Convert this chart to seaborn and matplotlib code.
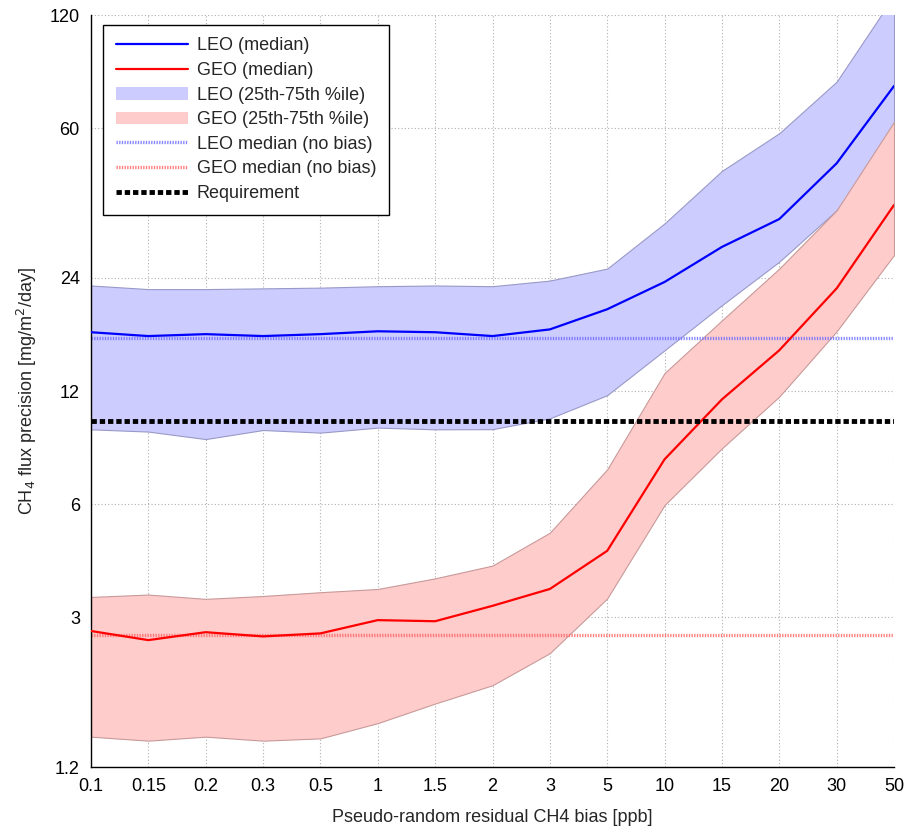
import numpy as np
import pandas as pd
import matplotlib
matplotlib.use("Agg")
import matplotlib.pyplot as plt
import seaborn as sns

# bias levels (categorical x axis)
bias_labels = ["0.1", "0.15", "0.2", "0.3", "0.5", "1", "1.5", "2", "3", "5", "10", "15", "20", "30", "50"]

# LEO flux precision
leo_median = [17.2, 16.8, 17.0, 16.8, 17.0, 17.3, 17.2, 16.8, 17.5, 19.8, 23.4, 29.0, 34.4, 48.4, 77.7]
leo_p25 = [9.49, 9.36, 8.94, 9.45, 9.30, 9.59, 9.49, 9.50, 10.15, 11.7, 15.4, 20.3, 26.5, 36.3, 57.6]
leo_p75 = [22.9, 22.4, 22.4, 22.5, 22.6, 22.8, 22.9, 22.8, 23.6, 25.4, 33.5, 46.2, 58.2, 79.8, 135.0]

# GEO flux precision
geo_median = [2.76, 2.61, 2.74, 2.67, 2.72, 2.95, 2.93, 3.22, 3.57, 4.51, 7.90, 11.4, 15.4, 22.5, 37.5]
geo_p25 = [1.445, 1.41, 1.445, 1.41, 1.43, 1.57, 1.77, 1.98, 2.41, 3.37, 5.97, 8.45, 11.6, 17.3, 27.6]
geo_p75 = [3.40, 3.45, 3.36, 3.42, 3.50, 3.57, 3.81, 4.12, 5.04, 7.43, 13.4, 18.5, 25.4, 36.3, 62.4]

leo_nobias = 16.6
geo_nobias = 2.70
requirement = 10.0

yticks = [1.2, 3, 6, 12, 24, 60, 120]

pos = np.arange(len(bias_labels))
df = pd.DataFrame({
    "pos": np.concatenate([pos, pos]),
    "value": leo_median + geo_median,
    "orbit": ["LEO (median)"] * len(pos) + ["GEO (median)"] * len(pos),
})

sns.set_style("white")
plt.rcParams["font.family"] = ["Liberation Sans", "DejaVu Sans"]

fig = plt.figure(figsize=(9.07, 8.30), dpi=100)
ax = fig.add_axes([0.1003, 0.0759, 0.8854, 0.906])

# 25th-75th percentile bands
ax.fill_between(pos, leo_p25, leo_p75, facecolor="#ccccff", edgecolor="#9999c8",
                linewidth=0.8, zorder=1)
ax.fill_between(pos, geo_p25, geo_p75, facecolor="#ffcccc", edgecolor="#c89999",
                linewidth=0.8, zorder=1)
# legend proxies without the edge line
ax.fill_between([], [], [], facecolor="#ccccff", edgecolor="none", label="LEO (25th-75th %ile)")
ax.fill_between([], [], [], facecolor="#ffcccc", edgecolor="none", label="GEO (25th-75th %ile)")

# medians
sns.lineplot(data=df, x="pos", y="value", hue="orbit",
             palette={"LEO (median)": "#0000ff", "GEO (median)": "#ff0000"},
             linewidth=1.6, ax=ax, zorder=3)

# reference lines
ax.axhline(leo_nobias, color="#6666ff", linewidth=2.4, linestyle=(0, (0.4, 0.4)),
           alpha=0.8, label="LEO median (no bias)", zorder=2)
ax.axhline(geo_nobias, color="#ff6666", linewidth=2.4, linestyle=(0, (0.4, 0.4)),
           alpha=0.85, label="GEO median (no bias)", zorder=2)
ax.axhline(requirement, color="black", linewidth=3.5, linestyle=(0, (1.1, 0.6)),
           label="Requirement", zorder=4)

ax.set_yscale("log")
ax.set_ylim(1.2, 120)
ax.set_xlim(0, len(bias_labels) - 1)
ax.set_yticks(yticks)
ax.set_yticklabels([("%g" % t) for t in yticks])
ax.yaxis.set_minor_locator(matplotlib.ticker.NullLocator())
ax.set_xticks(pos)
ax.set_xticklabels(bias_labels)

ax.grid(True, which="major", color="#b0b0b0", linestyle=(0, (1, 2)), linewidth=0.8)
ax.set_axisbelow(True)
for side in ["top", "right"]:
    ax.spines[side].set_visible(False)
for side in ["left", "bottom"]:
    ax.spines[side].set_color("black")
    ax.spines[side].set_linewidth(1.0)

ax.tick_params(axis="both", direction="in", length=6, width=1, labelsize=13,
               colors="black", pad=8)

ax.set_xlabel("Pseudo-random residual CH4 bias [ppb]", fontsize=13, labelpad=10)
ax.set_ylabel("CH$_4$ flux precision [mg/m$^2$/day]", fontsize=13, labelpad=8)

handles, labels = ax.get_legend_handles_labels()
order = ["LEO (median)", "GEO (median)", "LEO (25th-75th %ile)", "GEO (25th-75th %ile)",
         "LEO median (no bias)", "GEO median (no bias)", "Requirement"]
hmap = dict(zip(labels, handles))
leg = ax.legend([hmap[k] for k in order], order, loc="upper left",
                bbox_to_anchor=(0.015, 0.987), borderaxespad=0, fontsize=13, frameon=True,
                fancybox=False, edgecolor="black", framealpha=1,
                handlelength=4.0, labelspacing=0.42, borderpad=0.7, handletextpad=0.5)
leg.get_frame().set_linewidth(1.0)

fig.savefig("out.png", dpi=100)
